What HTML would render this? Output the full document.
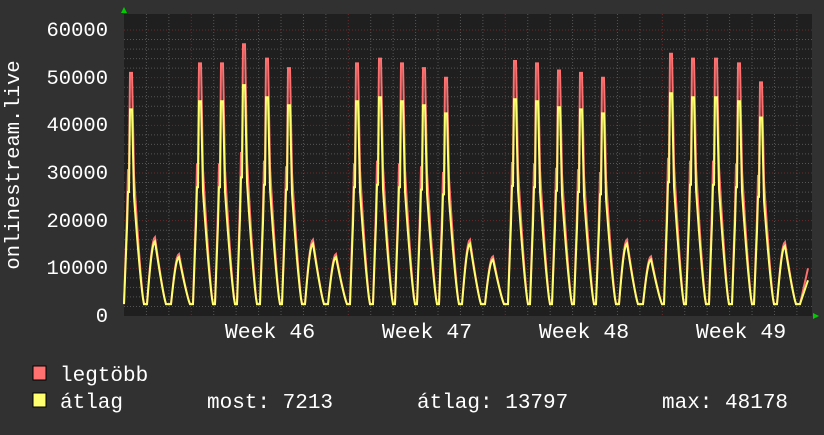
<!DOCTYPE html><html><head><style>
body{margin:0;background:#313131;width:824px;height:430px;overflow:hidden;font-family:"Liberation Mono",monospace}
</style></head><body>
<svg id="s" width="824" height="430" xmlns="http://www.w3.org/2000/svg" font-family="Liberation Mono, DejaVu Sans Mono, monospace" fill="#fff">
<rect width="824" height="430" fill="#313131"/>
<rect x="124" y="14" width="688" height="302" fill="#1f1f1f"/>
<g id="grid"></g>
<g id="data"></g>
<polygon points="121,13 127,13 124,7" fill="#0c0"/>
<polygon points="813,313 813,319 819,316" fill="#0c0"/>
<g font-size="20.5" text-anchor="end">
<text x="108" y="322">0</text><text x="108" y="274">10000</text><text x="108" y="227">20000</text>
<text x="108" y="179">30000</text><text x="108" y="131">40000</text><text x="108" y="84">50000</text><text x="108" y="36">60000</text>
</g>
<text transform="translate(19,165) rotate(-90)" font-size="20.5" text-anchor="middle">onlinestream.live</text>
<g font-size="21.5" text-anchor="middle">
<text x="270" y="338">Week 46</text><text x="427" y="338">Week 47</text><text x="584" y="338">Week 48</text><text x="741" y="338">Week 49</text>
</g>
<rect x="33" y="366" width="13" height="14" fill="#ff7070" stroke="#000" stroke-width="1"/>
<rect x="33" y="393" width="13" height="14" fill="#ffff70" stroke="#000" stroke-width="1"/>
<g font-size="21">
<text x="60" y="381">legtöbb</text>
<text x="60" y="408">átlag</text>
<text x="207" y="408">most: 7213</text>
<text x="417" y="408">átlag: 13797</text>
<text x="662" y="408">max: 48178</text>
</g>
</svg>
<script>
var ns="http://www.w3.org/2000/svg";
function el(p,t,a){var e=document.createElementNS(ns,t);for(var k in a)e.setAttribute(k,a[k]);p.appendChild(e);}
var g=document.getElementById('grid');
function Y(v){return 316-v*286/60000;}
for(var v=2000;v<=60000;v+=2000){var maj=v%10000==0;el(g,'line',{x1:124,x2:812,y1:Y(v),y2:Y(v),stroke:maj?'#6a2a2a':'#555','stroke-dasharray':'1,2'});}
for(var i=1;i<31;i++){var x=124+i*22.43;var maj=(i-3)%7==0;el(g,'line',{x1:x,x2:x,y1:14,y2:316,stroke:maj?'#6a2a2a':'#555','stroke-dasharray':'1,2'});}
var peaks=[[131,51000,0],[155,16500,1],[179,13000,1],[200,53000,0],[222,53000,0],[244,57000,0],[267,54000,0],[289,52000,0],[313,16000,1],[336,13000,1],[357,53000,0],[380,54000,0],[402,53000,0],[424,52000,0],[446,50000,0],[470,16000,1],[493,12500,1],[515,53500,0],[537,53000,0],[559,51500,0],[581,51000,0],[603,50000,0],[627,16000,1],[651,12500,1],[671,55000,0],[693,54000,0],[716,54000,0],[739,53000,0],[761,49000,0],[785,15500,1]];
function val(x,avg){var m=2500;
 for(var j=0;j<peaks.length;j++){var p=peaks[j][0],H=peaks[j][1],we=peaks[j][2];
  if(avg)H=we?H*0.95:H*0.85;var d=x-p,v=2500;
  if(we){if(d>=-8&&d<=0)v=2500+(H-2500)*Math.sin((d+8)/8*Math.PI/2);else if(d>0&&d<=11)v=2500+(H-2500)*Math.pow(1-d/11,1.2);}
  else{if(d>=-7&&d<-3)v=2500+(0.55*H-2500)*(d+7)/4;
   if(d>=-3&&d<-1)v=0.6*H; if(d>=-1&&d<=1)v=H; if(d>1&&d<=3)v=H-(H*0.42)*(d-1)/2; if(d>3&&d<=13)v=2500+(0.58*H-2500)*Math.pow(1-(d-3)/10,1.3);}
  if(v>m)m=v;}
 if(x>800){m=Math.max(m,2500+(avg?5000:7500)*(x-800)/8);}
 return m;}
var dg=document.getElementById('data');
[[0,'#ff7070'],[1,'#ffff70']].forEach(function(s){var pts=[];for(var x=124;x<=808;x++)pts.push(x+','+Y(val(x,s[0])).toFixed(1));
 el(dg,'polyline',{points:pts.join(' '),fill:'none',stroke:s[1],'stroke-width':2});});
</script>
</body></html>
